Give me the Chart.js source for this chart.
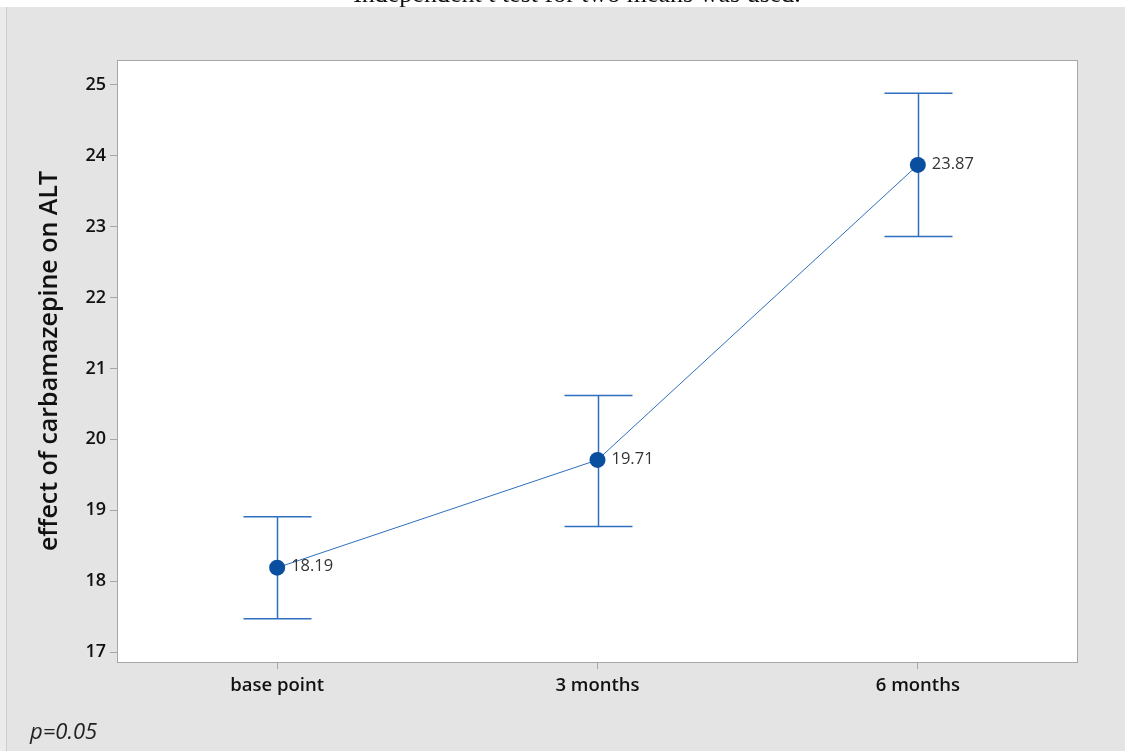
<!DOCTYPE html>
<html>
<head>
<meta charset="utf-8">
<script src="https://cdn.jsdelivr.net/npm/chart.js@4.4.1/dist/chart.umd.min.js"></script>
<style>
  html, body { margin: 0; padding: 0; background: #fff; }
  #wrap { position: relative; width: 1125px; height: 751px; }
</style>
</head>
<body>
<div id="wrap"><canvas id="myChart" width="1125" height="751"></canvas></div>
<script>
// datos de la grafica
var categories = ['base point', '3 months', '6 months'];
var means = [18.19, 19.71, 23.87];
var upper = [18.91, 20.62, 24.88];
var lower = [17.47, 18.77, 22.86];
var yTicks = [17, 18, 19, 20, 21, 22, 23, 24, 25];

var lineColor = '#2f6fbf';
var pointColor = '#0a4f9f';

// fondo gris, marco blanco del area y textos extra
var fondo = {
    id: 'fondo',
    beforeDraw: function(chart) {
        var c = chart.ctx, a = chart.chartArea;
        c.save();
        c.fillStyle = '#e4e4e4';
        c.fillRect(0, 0, chart.width, chart.height);
        c.fillStyle = '#ebebeb';
        c.fillRect(0, 0, 6, chart.height);
        c.fillStyle = '#cdcdcd';
        c.fillRect(6, 7, 1, chart.height - 7);
        c.fillStyle = '#ffffff';
        c.fillRect(0, 0, chart.width, 7);
        // titulo cortado arriba
        c.fillStyle = '#111';
        c.font = '26px "Liberation Serif"';
        c.textAlign = 'center';
        c.textBaseline = 'alphabetic';
        c.fillText('Independent t test for two means was used.', 577, 2);
        // area de la grafica
        c.fillStyle = '#ffffff';
        c.fillRect(a.left, a.top, a.right - a.left, a.bottom - a.top);
        // p valor
        c.fillStyle = '#222';
        c.font = 'italic 22px "Open Sans"';
        c.textAlign = 'left';
        c.fillText('p=0.05', 30, 739);
        c.restore();
    },
    afterDraw: function(chart) {
        var c = chart.ctx, a = chart.chartArea;
        c.save();
        c.strokeStyle = '#a6a6a6';
        c.lineWidth = 1;
        c.strokeRect(a.left + 0.5, a.top + 0.5, a.right - a.left - 1, a.bottom - a.top);
        c.restore();
    }
};

// barras de error y etiquetas de valores
var barras = {
    id: 'barras',
    beforeDatasetsDraw: function(chart) {
        var c = chart.ctx, xs = chart.scales.x, ys = chart.scales.y;
        c.save();
        c.strokeStyle = lineColor;
        c.lineWidth = 1.5;
        for (var i = 0; i < categories.length; i++) {
            var x = Math.round(xs.getPixelForValue(i)) + 0.5;
            var yt = ys.getPixelForValue(upper[i]);
            var yb = ys.getPixelForValue(lower[i]);
            c.beginPath();
            c.moveTo(x, yt); c.lineTo(x, yb);
            c.moveTo(x - 34, yt); c.lineTo(x + 34, yt);
            c.moveTo(x - 34, yb); c.lineTo(x + 34, yb);
            c.stroke();
        }
        c.restore();
    },
    afterDatasetsDraw: function(chart) {
        var c = chart.ctx, xs = chart.scales.x, ys = chart.scales.y;
        c.save();
        c.fillStyle = '#333';
        c.font = '16.5px "Open Sans"';
        c.textAlign = 'left';
        c.textBaseline = 'middle';
        for (var i = 0; i < categories.length; i++) {
            c.fillText(means[i].toFixed(2), xs.getPixelForValue(i) + 14, ys.getPixelForValue(means[i]) - 1);
        }
        c.restore();
    }
};

var ctx = document.getElementById('myChart').getContext('2d');
var myChart = new Chart(ctx, {
    type: 'line',
    data: {
        labels: categories,
        datasets: [{
            data: means,
            borderColor: lineColor,
            borderWidth: 1,
            pointRadius: 8,
            pointBackgroundColor: pointColor,
            pointBorderColor: pointColor,
            pointBorderWidth: 0,
            tension: 0
        }]
    },
    options: {
        responsive: false,
        animation: false,
        layout: { padding: { top: 60, right: 47, left: 0, bottom: 0 } },
        plugins: { legend: { display: false }, tooltip: { enabled: false } },
        scales: {
            x: {
                offset: true,
                grid: { drawOnChartArea: false, drawTicks: true, tickLength: 7, tickColor: '#a6a6a6', offset: false },
                border: { display: false },
                ticks: { color: '#111', padding: 6, font: { family: '"Open Sans"', size: 18.5, weight: '600' } },
                afterFit: function(s) { s.height = 89; }
            },
            y: {
                min: 16.86,
                max: 25.35,
                afterBuildTicks: function(s) { s.ticks = yTicks.map(function(v) { return { value: v }; }); },
                grid: { drawOnChartArea: false, drawTicks: true, tickLength: 7, tickColor: '#a6a6a6' },
                border: { display: false },
                ticks: { color: '#111', padding: 4, font: { family: '"Open Sans"', size: 18, weight: '600' } },
                title: {
                    display: true,
                    text: 'effect of carbamazepine on ALT',
                    color: '#111',
                    padding: { top: 35, bottom: 0 },
                    font: { family: '"Open Sans"', size: 25, weight: '600' }
                },
                afterFit: function(s) { s.width = 117; }
            }
        }
    },
    plugins: [fondo, barras]
});
</script>
</body>
</html>
